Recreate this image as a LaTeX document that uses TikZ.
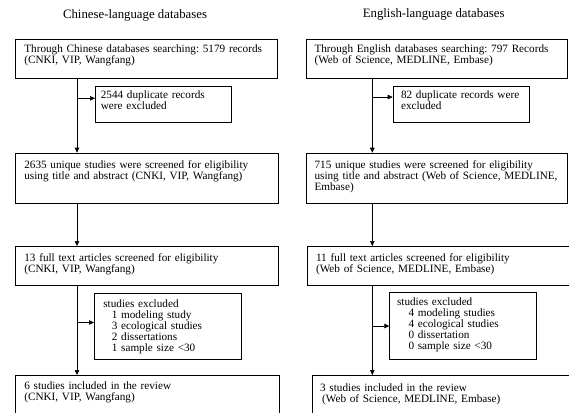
\documentclass[tikz,border=0pt]{standalone}
\usepackage{fontspec}
\setmainfont{Liberation Serif}
\usepackage{tikz}
\usetikzlibrary{arrows.meta}
\frenchspacing

\begin{document}
\begin{tikzpicture}[x=1pt, y=-1pt,
            flowbox/.style={rectangle, draw=black, line width=0.7pt, anchor=north west, align=left, font=\fontsize{11.2}{11}\selectfont, inner xsep=9pt, inner ysep=4pt, text height=9.5pt},
            headline/.style={anchor=base, font=\fontsize{12.8}{13}\selectfont},
            arr/.style={line width=0.7pt, -{Triangle[length=5pt, width=4.5pt]}}]
            \useasboundingbox (0,0) rectangle (569,412);
            \node [headline] (hl) at (135,18.3) {Chinese-language databases};
            \node [headline] (hr) at (433.7,18) {English-language databases};
            \node [flowbox, text width=244pt, text depth=21.5pt] (c1) at (15,39) {Through Chinese databases searching: 5179 records\\(CNKI, VIP, Wangfang)};
            \node [flowbox, inner xsep=5.5pt, text width=125pt, text height=8.3pt, text depth=19.4pt] (c2) at (95,86) {2544 duplicate records\\were excluded};
            \node [flowbox, text width=245pt, text height=11.6pt, text depth=30.4pt] (c3) at (15,152.7) {2635 unique studies were screened for eligibility\\using title and abstract (CNKI, VIP, Wangfang)};
            \node [flowbox, text width=245pt, text height=11pt, text depth=20pt] (c4) at (15,246) {13 full text articles screened for eligibility\\(CNKI, VIP, Wangfang)};
            \node [flowbox, text width=129pt, text height=9.7pt, text depth=48.3pt] (c5) at (94,293) {studies excluded\\\hspace*{8.5pt}1 modeling study\\\hspace*{8.5pt}3 ecological studies\\\hspace*{8.5pt}2 dissertations\\\hspace*{8.5pt}1 sample size {<}30};
            \node [flowbox, text width=246pt, text height=10.3pt, text depth=26.7pt] (c6) at (15,375) {6 studies included in the review\\(CNKI, VIP, Wangfang)};
            \node [flowbox, inner xsep=8.5pt, text width=244.6pt, text depth=21.5pt] (d1) at (305.7,39) {Through English databases searching: 797 Records\\(Web of Science, MEDLINE, Embase)};
            \node [flowbox, inner xsep=8pt, text width=120.6pt, text height=8.3pt, text depth=19.4pt] (d2) at (392.7,86) {82 duplicate records were\\excluded};
            \node [flowbox, inner xsep=8.5pt, text width=244.6pt, text height=11.3pt, text depth=30.7pt] (d3) at (305.7,152.7) {715 unique studies were screened for eligibility\\using title and abstract (Web of Science, MEDLINE,\\Embase)};
            \node [flowbox, text width=244pt, text height=11.5pt, text depth=19.5pt] (d4) at (306.7,246) {11 full text articles screened for eligibility\\(Web of Science, MEDLINE, Embase)};
            \node [flowbox, inner xsep=7.4pt, text width=131.6pt, text height=8.7pt, text depth=50.3pt] (d5) at (389.3,292.3) {studies excluded\\\hspace*{11.5pt}4 modeling studies\\\hspace*{11.5pt}4 ecological studies\\\hspace*{11.5pt}0 dissertation\\\hspace*{11.5pt}0 sample size {<}30};
            \node [flowbox, inner xsep=8.3pt, text width=243.9pt, text height=11.7pt, text depth=25.3pt] (d6) at (311.5,375) {3 studies included in the review\\\hspace*{2pt}(Web of Science, MEDLINE, Embase)};
            \coordinate (stemL) at (77,0);
            \coordinate (stemR) at (372.3,0);
            \coordinate (brL1) at (77,98.3);
            \coordinate (brL2) at (77,322.5);
            \coordinate (brR1) at (372.3,97);
            \coordinate (brR2) at (372.3,326);
            \draw [arr] (c1.south -| stemL) -- (c3.north -| stemL);
            \draw [arr] (c3.south -| stemL) -- (c4.north -| stemL);
            \draw [arr] (c4.south -| stemL) -- (c6.north -| stemL);
            \draw [arr] (brL1) -- (brL1 -| c2.west);
            \draw [arr] (brL2) -- (brL2 -| c5.west);
            \draw [arr] (d1.south -| stemR) -- (d3.north -| stemR);
            \draw [arr] (d3.south -| stemR) -- (d4.north -| stemR);
            \draw [arr] (d4.south -| stemR) -- (d6.north -| stemR);
            \draw [arr] (brR1) -- (brR1 -| d2.west);
            \draw [arr] (brR2) -- (brR2 -| d5.west);
        \end{tikzpicture}
\end{document}
